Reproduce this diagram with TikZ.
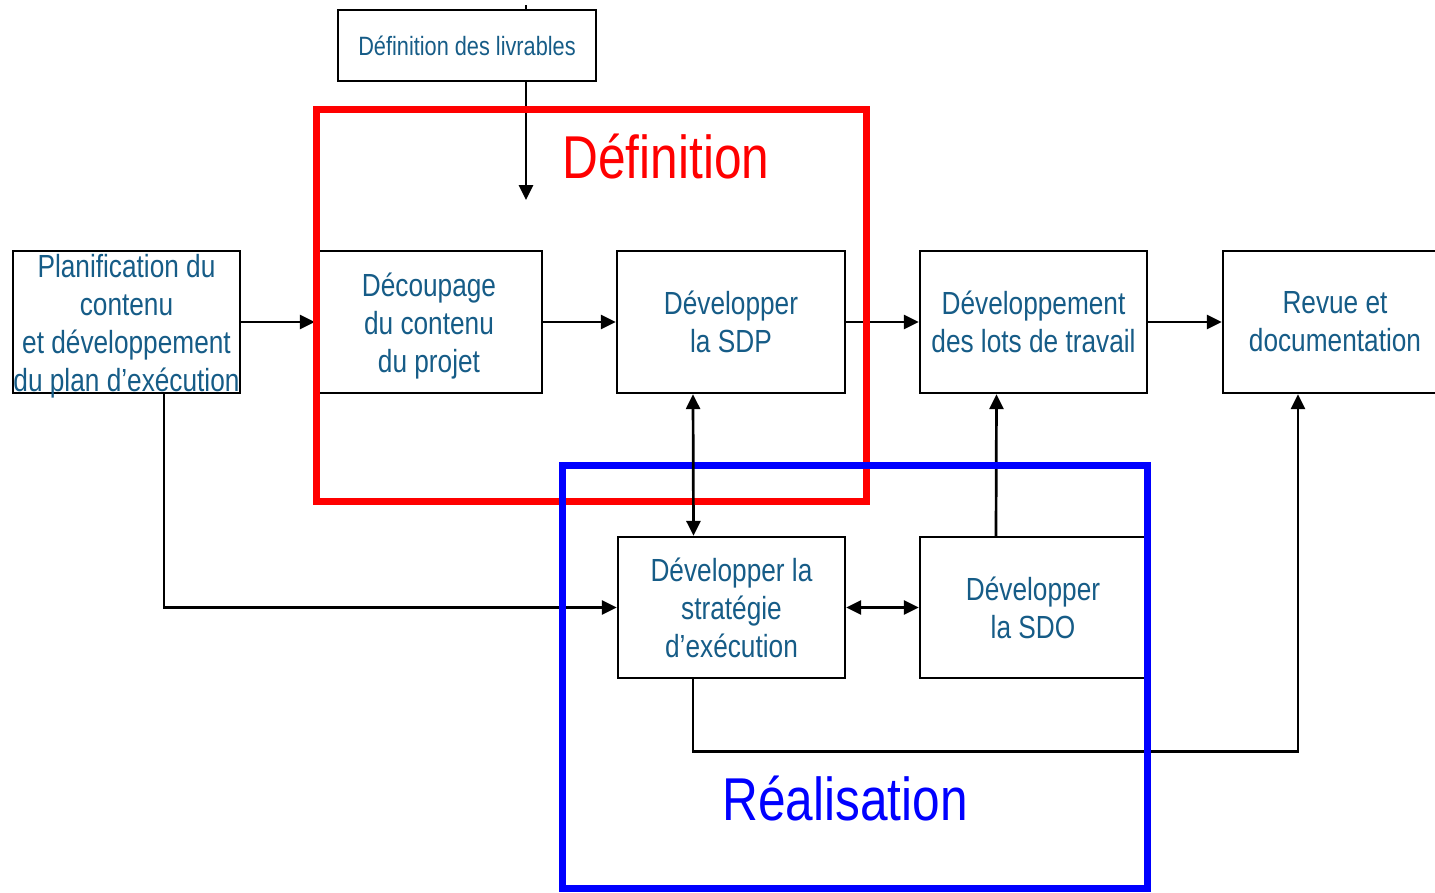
\documentclass[tikz,border=0pt]{standalone}
\usepackage{fontspec}
\setmainfont{Liberation Sans}[FakeStretch=0.82]
\usetikzlibrary{arrows.meta}
\definecolor{txtblue}{RGB}{22,92,135}
\newcommand{\topstrut}{\rule{0pt}{31pt}}
\begin{document}
\begin{tikzpicture}[x=1pt,y=-1pt,
  boxtext/.style={inner sep=0pt,align=center,text=txtblue,
    font=\fontsize{32}{38}\selectfont},
  procbox/.style={boxtext,draw=black,line width=2.3pt,
    minimum width=227pt,minimum height=142pt},
  link/.style={line width=2.7pt,draw=black},
  arr/.style={link,-{Triangle[length=15pt,width=14pt]}},
  dblarr/.style={link,{Triangle[length=15pt,width=14pt]}-{Triangle[length=15pt,width=14pt]}},
  phase/.style={line width=7pt,miter limit=10}]
\useasboundingbox (0,0) rectangle (1435,892);

% process boxes
\node[procbox,minimum width=258pt,minimum height=71pt,
  font=\fontsize{26.5}{32}\selectfont] (liv) at (467,45.5) {Définition des livrables};
\node[procbox,label={[boxtext,yshift=-4pt]center:{Planification du\\contenu\\et développement\\du plan d’exécution}}]
  (plan) at (126.5,322) {};
\node[procbox,minimum width=226pt] (dec) at (429,322) {\topstrut Découpage\\du contenu\\du projet};
\node[procbox,minimum width=228pt] (sdp) at (731,322) {Développer\\la SDP};
\node[procbox] (lots) at (1033.5,322) {Développement\\des lots de travail};
\node[procbox,minimum width=224pt] (rev) at (1335,322) {Revue et\\documentation};
\node[procbox,minimum height=141pt] (exe) at (731.5,607.5) {Développer la\\stratégie\\d’exécution};
\node[procbox,minimum width=226pt,minimum height=141pt] (sdo) at (1033,607.5) {Développer\\la SDO};

% connectors
\coordinate (livend) at (526,200);
\draw[link] (livend |- liv.north) -- ++(0,-4);
\draw[arr] (livend |- liv.south) -- (livend);
\draw[arr] (plan.east) -- (dec.west);
\draw[arr] (dec.east) -- (sdp.west);
\draw[arr] (sdp.east) -- (lots.west);
\draw[arr] (lots.east) -- (rev.west);
\draw[dblarr] (exe.east) -- (sdo.west);
\draw[arr] ([xshift=-37pt]sdo.north) -- ([xshift=-37pt]lots.south);
\draw[arr] ([xshift=37.5pt]plan.south) |- (exe.west);
\draw[arr] ([xshift=-38.5pt]exe.south) -- ++(0,72) -| ([xshift=-37pt]rev.south);

% phase frames
\draw[phase,red] (316,109) rectangle (866,501);
\draw[phase,blue] (562,465) rectangle (1147,888);
\draw[dblarr] ([xshift=-38pt]sdp.south) -- ([xshift=-38pt]exe.north);

% phase titles
\node[anchor=base,red,inner sep=0pt,font=\fontsize{60.5}{70}\selectfont] (tdef) at (666,178) {Définition};
\node[anchor=base,blue,inner sep=0pt,font=\fontsize{60.5}{70}\selectfont] (treal) at (845,820) {Réalisation};
\end{tikzpicture}
\end{document}
